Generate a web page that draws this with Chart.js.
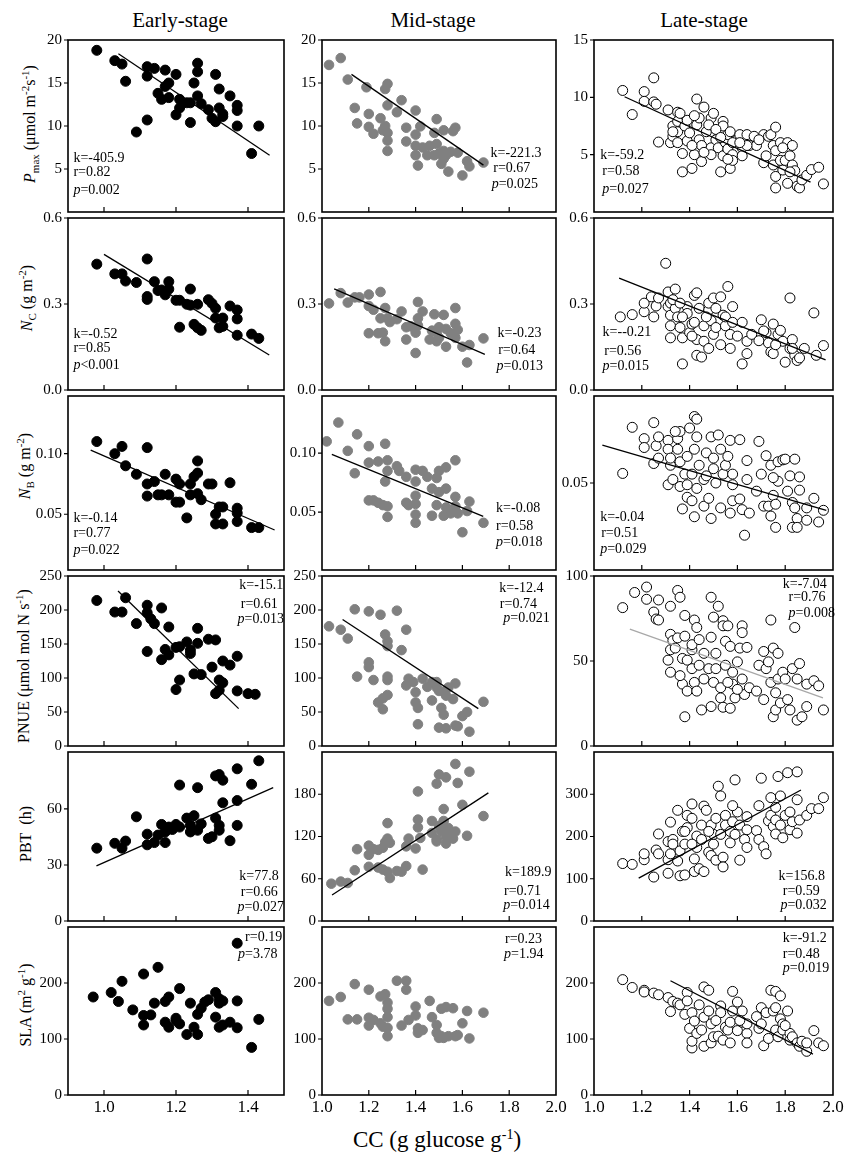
<!DOCTYPE html>
<html lang="en">
<head>
<meta charset="UTF-8">
<title>CC vs leaf traits</title>
<script src="https://cdn.jsdelivr.net/npm/chart.js"></script>
<style>
  body { margin: 0; background: #fff; }
  #page { position: relative; width: 851px; height: 1159px; font-family: 'Liberation Serif', 'Times New Roman', serif; color: #000; }
  canvas { position: absolute; }
  .title { position: absolute; font-size: 21px; transform: translate(-50%, -50%); white-space: nowrap; }
  .ylab { position: absolute; font-size: 16px; white-space: nowrap; transform: translate(-50%, -50%) rotate(-90deg); }
  .ylab sub, .ylab sup { font-size: 11px; }
  .xlab { position: absolute; font-size: 23px; white-space: nowrap; transform: translate(-50%, -50%); }
  .xlab sup { font-size: 14px; }
</style>
</head>
<body>
<div id="page">
  <div class="title" style="left:180px;top:20px;">Early-stage</div>
  <div class="title" style="left:433px;top:20px;">Mid-stage</div>
  <div class="title" style="left:704px;top:20px;">Late-stage</div>

  <div class="ylab" style="left:30px;top:124px;"><i>P</i><sub>max</sub> (μmol m<sup>-2</sup>s<sup>-1</sup>)</div>
  <div class="ylab" style="left:27px;top:298px;"><i>N</i><sub>C</sub> (g m<sup>-2</sup>)</div>
  <div class="ylab" style="left:25px;top:466px;"><i>N</i><sub>B</sub> (g m<sup>-2</sup>)</div>
  <div class="ylab" style="left:23px;top:666px;">PNUE (μmol mol N s<sup>-1</sup>)</div>
  <div class="ylab" style="left:26px;top:834px;">PBT&nbsp;&nbsp;(h)</div>
  <div class="ylab" style="left:25px;top:1005px;">SLA (m<sup>2</sup> g<sup>-1</sup>)</div>

  <div class="xlab" style="left:437px;top:1140px;">CC (g glucose g<sup>-1</sup>)</div>
</div>

<script>
// ---- tick labels ----
const earlyTicksX = [1.0, 1.2, 1.4];
const midTicksX = [1.0, 1.2, 1.4, 1.6, 1.8, 2.0];
const lateTicksX = [1.0, 1.2, 1.4, 1.6, 1.8, 2.0];

const earlyPmaxTicks = [5, 10, 15, 20];
const midPmaxTicks = [5, 10, 15, 20];
const latePmaxTicks = [5, 10, 15];
const ncTicks = [0.0, 0.3, 0.6];
const earlyNbTicks = [0.05, 0.10];
const midNbTicks = [0.05, 0.10];
const lateNbTicks = [0.05];
const earlyPnueTicks = [0, 50, 100, 150, 200, 250];
const midPnueTicks = [0, 50, 100, 150, 200, 250];
const latePnueTicks = [0, 50, 100];
const earlyPbtTicks = [0, 30, 60];
const midPbtTicks = [0, 60, 120, 180];
const latePbtTicks = [0, 100, 200, 300];
const slaTicks = [0, 100, 200];

// ---- data: [CC, value] ----
const earlyPmax = [[0.98,18.8],[1.03,17.6],[1.05,17.2],[1.06,15.2],[1.09,9.3],[1.12,10.7],[1.12,16.9],[1.12,15.8],[1.14,16.7],[1.15,13.8],[1.16,13.1],[1.17,16.5],[1.17,14.6],[1.18,15.0],[1.18,13.3],[1.20,16.0],[1.20,11.3],[1.21,13.1],[1.21,12.1],[1.23,12.7],[1.24,12.7],[1.24,10.4],[1.25,15.0],[1.26,17.3],[1.26,16.3],[1.26,13.5],[1.27,12.6],[1.29,11.9],[1.30,10.9],[1.31,10.5],[1.31,16.0],[1.32,12.1],[1.32,14.3],[1.33,11.4],[1.33,11.1],[1.35,13.5],[1.37,12.4],[1.37,11.8],[1.37,10.0],[1.41,6.8],[1.43,10.0]];
const earlyNc = [[0.98,0.439],[1.03,0.405],[1.05,0.405],[1.06,0.380],[1.09,0.375],[1.12,0.457],[1.12,0.326],[1.12,0.316],[1.14,0.378],[1.15,0.347],[1.16,0.349],[1.17,0.332],[1.18,0.378],[1.18,0.352],[1.20,0.313],[1.21,0.313],[1.21,0.219],[1.23,0.299],[1.24,0.352],[1.25,0.229],[1.24,0.296],[1.26,0.299],[1.26,0.217],[1.27,0.208],[1.29,0.315],[1.30,0.302],[1.31,0.285],[1.31,0.251],[1.32,0.217],[1.33,0.251],[1.33,0.222],[1.35,0.293],[1.37,0.279],[1.37,0.248],[1.37,0.191],[1.41,0.195],[1.43,0.180]];
const earlyNb = [[0.98,0.110],[1.03,0.100],[1.05,0.106],[1.06,0.090],[1.09,0.083],[1.12,0.105],[1.12,0.075],[1.12,0.065],[1.14,0.077],[1.15,0.066],[1.17,0.083],[1.16,0.066],[1.18,0.066],[1.20,0.079],[1.20,0.060],[1.21,0.060],[1.21,0.075],[1.23,0.047],[1.24,0.066],[1.24,0.075],[1.25,0.081],[1.26,0.094],[1.26,0.084],[1.26,0.067],[1.27,0.062],[1.29,0.075],[1.30,0.075],[1.31,0.050],[1.32,0.056],[1.31,0.042],[1.33,0.042],[1.33,0.056],[1.35,0.076],[1.37,0.055],[1.37,0.051],[1.37,0.044],[1.41,0.039],[1.43,0.039]];
const earlyPnue = [[0.98,214],[1.03,197],[1.05,197],[1.06,218],[1.09,180],[1.12,139],[1.12,207],[1.12,196],[1.13,187],[1.14,180],[1.16,203],[1.16,127],[1.17,142],[1.18,175],[1.18,134],[1.20,83],[1.21,97],[1.20,145],[1.21,146],[1.23,153],[1.24,141],[1.24,136],[1.25,106],[1.26,173],[1.26,151],[1.27,105],[1.29,157],[1.30,116],[1.31,156],[1.31,77],[1.32,97],[1.33,93],[1.32,82],[1.33,125],[1.35,119],[1.37,132],[1.37,81],[1.40,77],[1.42,76]];
const earlyPbt = [[0.98,39],[1.03,41.6],[1.05,39],[1.06,42.8],[1.09,55.8],[1.12,46.5],[1.12,40.8],[1.14,42],[1.15,46],[1.16,51.7],[1.17,42],[1.17,47.7],[1.18,50.3],[1.19,49],[1.20,51.7],[1.21,50.3],[1.21,72.8],[1.23,55.1],[1.24,47.7],[1.24,51.2],[1.25,56.4],[1.26,71.4],[1.26,48.6],[1.27,52],[1.29,44.2],[1.30,45.1],[1.31,55.1],[1.31,77.7],[1.32,78.4],[1.32,51.2],[1.33,75.4],[1.33,63.3],[1.32,48.6],[1.35,43],[1.37,81.5],[1.37,64.5],[1.37,51.2],[1.41,73.2],[1.43,85.8]];
const earlySla = [[0.97,175],[1.02,183],[1.04,167],[1.05,203],[1.08,152],[1.11,125],[1.11,142],[1.11,216],[1.13,143],[1.14,164],[1.15,228],[1.17,130],[1.17,167],[1.18,175],[1.18,121],[1.20,137],[1.20,133],[1.21,190],[1.21,127],[1.23,108],[1.24,164],[1.25,121],[1.26,108],[1.26,144],[1.27,155],[1.28,166],[1.29,170],[1.31,183],[1.31,139],[1.32,172],[1.32,121],[1.32,164],[1.33,168],[1.33,125],[1.35,130],[1.37,168],[1.37,120],[1.37,271],[1.41,85],[1.43,135]];

const midPmax = [[1.03,17.1],[1.08,17.9],[1.11,15.4],[1.14,12.1],[1.15,10.3],[1.19,14.5],[1.20,11.4],[1.20,9.9],[1.22,9.1],[1.25,10.9],[1.26,9.5],[1.27,10.0],[1.27,14.3],[1.28,14.9],[1.28,12.4],[1.28,9.2],[1.28,8.3],[1.28,7.1],[1.32,11.6],[1.34,13.0],[1.36,9.8],[1.36,8.2],[1.40,11.8],[1.40,7.7],[1.40,9.0],[1.40,6.6],[1.41,5.4],[1.42,9.95],[1.43,7.5],[1.46,7.7],[1.48,9.2],[1.48,6.6],[1.49,10.8],[1.49,7.9],[1.50,6.8],[1.51,5.6],[1.52,9.5],[1.52,7.1],[1.53,6.6],[1.54,4.7],[1.55,7.0],[1.56,9.4],[1.57,9.8],[1.58,6.9],[1.60,4.25],[1.62,5.9],[1.63,5.3],[1.69,5.75],[1.52,6.2],[1.45,6.6]];
const midNc = [[1.03,0.302],[1.08,0.338],[1.11,0.305],[1.14,0.323],[1.16,0.323],[1.20,0.333],[1.20,0.293],[1.20,0.198],[1.22,0.280],[1.25,0.342],[1.24,0.198],[1.26,0.200],[1.25,0.250],[1.27,0.286],[1.28,0.250],[1.27,0.170],[1.29,0.237],[1.32,0.247],[1.34,0.274],[1.36,0.219],[1.36,0.176],[1.38,0.222],[1.40,0.200],[1.41,0.307],[1.41,0.250],[1.41,0.225],[1.40,0.129],[1.43,0.274],[1.46,0.176],[1.47,0.207],[1.48,0.264],[1.49,0.170],[1.50,0.219],[1.52,0.262],[1.50,0.182],[1.53,0.151],[1.53,0.213],[1.55,0.198],[1.57,0.286],[1.57,0.231],[1.58,0.210],[1.57,0.182],[1.60,0.151],[1.63,0.157],[1.62,0.096],[1.69,0.180],[1.49,0.200]];
const midNb = [[1.02,0.110],[1.07,0.126],[1.11,0.102],[1.14,0.083],[1.15,0.116],[1.20,0.106],[1.20,0.092],[1.20,0.060],[1.22,0.060],[1.24,0.058],[1.24,0.093],[1.26,0.056],[1.27,0.108],[1.27,0.076],[1.28,0.085],[1.28,0.094],[1.28,0.055],[1.28,0.046],[1.32,0.089],[1.33,0.085],[1.36,0.080],[1.36,0.058],[1.37,0.056],[1.40,0.076],[1.40,0.086],[1.40,0.064],[1.40,0.057],[1.40,0.048],[1.40,0.041],[1.43,0.085],[1.45,0.080],[1.47,0.047],[1.47,0.070],[1.49,0.079],[1.49,0.056],[1.50,0.085],[1.50,0.067],[1.52,0.047],[1.53,0.088],[1.53,0.070],[1.53,0.054],[1.55,0.049],[1.57,0.094],[1.57,0.063],[1.57,0.055],[1.58,0.049],[1.60,0.033],[1.62,0.051],[1.63,0.059],[1.69,0.041]];
const midPnue = [[1.03,176],[1.08,171],[1.11,158],[1.14,201],[1.15,102],[1.20,198],[1.20,123],[1.20,116],[1.22,97],[1.24,64],[1.25,193],[1.26,54],[1.26,70],[1.27,164],[1.28,154],[1.28,147],[1.28,102],[1.28,97],[1.28,75],[1.32,199],[1.34,141],[1.36,171],[1.36,89],[1.37,99],[1.39,94],[1.40,79],[1.40,64],[1.41,56],[1.41,32],[1.43,99],[1.45,87],[1.47,67],[1.49,94],[1.49,86],[1.50,27],[1.51,56],[1.52,46],[1.52,80],[1.53,74],[1.53,26],[1.54,86],[1.56,69],[1.57,92],[1.57,30],[1.58,29],[1.60,44],[1.62,50],[1.63,21],[1.69,65],[1.47,94],[1.50,81]];
const midPbt = [[1.04,53],[1.08,56],[1.11,54],[1.14,72],[1.15,102],[1.20,94],[1.20,77],[1.20,107],[1.22,102],[1.24,101],[1.24,76],[1.26,104],[1.26,73],[1.27,112],[1.28,70],[1.28,139],[1.28,117],[1.29,61],[1.29,111],[1.32,71],[1.34,70],[1.36,78],[1.36,106],[1.37,117],[1.40,103],[1.41,184],[1.41,144],[1.41,133],[1.42,118],[1.43,73],[1.47,142],[1.47,125],[1.49,116],[1.49,113],[1.49,195],[1.50,208],[1.51,128],[1.52,142],[1.53,204],[1.53,119],[1.53,110],[1.52,159],[1.54,132],[1.54,123],[1.56,117],[1.57,127],[1.57,223],[1.58,196],[1.60,165],[1.62,121],[1.63,212],[1.69,149],[1.50,135]];
const midSla = [[1.03,168],[1.08,175],[1.11,135],[1.14,198],[1.15,135],[1.20,188],[1.20,138],[1.20,124],[1.22,134],[1.25,176],[1.25,128],[1.26,122],[1.27,180],[1.28,165],[1.28,154],[1.28,139],[1.28,120],[1.28,105],[1.32,204],[1.34,124],[1.36,204],[1.36,188],[1.37,134],[1.40,158],[1.40,142],[1.41,119],[1.41,111],[1.43,116],[1.46,168],[1.47,139],[1.49,125],[1.49,111],[1.50,102],[1.51,154],[1.52,102],[1.53,157],[1.54,105],[1.56,155],[1.57,105],[1.58,107],[1.60,128],[1.62,150],[1.63,101],[1.69,147],[1.51,105]];

const latePmax = [[1.12,10.6],[1.16,8.5],[1.21,10.5],[1.21,9.65],[1.25,11.7],[1.25,9.6],[1.26,9.4],[1.27,6.1],[1.31,8.9],[1.32,6.05],[1.33,7.5],[1.33,6.6],[1.35,8.7],[1.35,7.9],[1.35,7.0],[1.35,6.05],[1.37,5.1],[1.37,3.5],[1.38,7.5],[1.39,8.0],[1.39,6.2],[1.40,6.9],[1.41,3.8],[1.42,5.0],[1.43,7.6],[1.43,9.85],[1.44,8.2],[1.44,6.3],[1.45,4.4],[1.45,5.8],[1.47,7.0],[1.49,8.2],[1.50,8.6],[1.49,5.6],[1.49,5.0],[1.51,6.3],[1.52,5.6],[1.53,3.5],[1.54,7.9],[1.54,7.5],[1.54,4.9],[1.55,6.05],[1.56,6.75],[1.56,5.5],[1.57,3.8],[1.57,7.0],[1.58,5.0],[1.58,4.5],[1.60,6.3],[1.61,6.75],[1.62,5.6],[1.62,4.9],[1.64,6.75],[1.65,5.8],[1.68,5.8],[1.71,4.3],[1.71,6.75],[1.72,4.9],[1.73,6.6],[1.74,6.75],[1.75,5.8],[1.75,4.1],[1.76,7.4],[1.76,3.1],[1.76,2.1],[1.76,5.35],[1.78,4.5],[1.78,6.05],[1.79,3.66],[1.80,4.5],[1.81,2.5],[1.81,6.05],[1.82,4.9],[1.83,5.8],[1.83,4.1],[1.84,3.6],[1.85,2.25],[1.86,2.1],[1.87,2.8],[1.89,3.2],[1.91,3.7],[1.94,3.9],[1.96,2.45],[1.36,8.6],[1.42,8.4],[1.46,9.15],[1.48,7.6],[1.51,7.2],[1.53,6.5],[1.58,6.05],[1.64,5.8],[1.67,6.6],[1.69,6.3],[1.33,7.0],[1.41,5.8],[1.46,5.2],[1.56,4.6],[1.61,6.05],[1.79,5.6],[1.82,3.5]];
const lateNc = [[1.11,0.255],[1.16,0.263],[1.21,0.273],[1.21,0.303],[1.24,0.325],[1.25,0.255],[1.26,0.293],[1.27,0.321],[1.30,0.442],[1.31,0.291],[1.31,0.342],[1.32,0.303],[1.32,0.261],[1.32,0.224],[1.32,0.182],[1.34,0.352],[1.34,0.285],[1.35,0.255],[1.36,0.218],[1.37,0.091],[1.37,0.182],[1.39,0.291],[1.39,0.267],[1.40,0.200],[1.41,0.230],[1.42,0.330],[1.43,0.339],[1.42,0.236],[1.43,0.176],[1.43,0.121],[1.45,0.115],[1.44,0.285],[1.46,0.224],[1.46,0.170],[1.48,0.279],[1.48,0.303],[1.49,0.242],[1.50,0.321],[1.50,0.194],[1.51,0.218],[1.53,0.158],[1.53,0.325],[1.54,0.261],[1.55,0.224],[1.55,0.255],[1.56,0.361],[1.57,0.194],[1.57,0.145],[1.58,0.236],[1.60,0.188],[1.62,0.236],[1.62,0.091],[1.64,0.170],[1.64,0.127],[1.66,0.194],[1.69,0.172],[1.70,0.245],[1.72,0.200],[1.73,0.164],[1.74,0.133],[1.75,0.230],[1.75,0.127],[1.77,0.194],[1.78,0.208],[1.79,0.170],[1.80,0.097],[1.82,0.321],[1.82,0.145],[1.83,0.176],[1.84,0.121],[1.85,0.103],[1.86,0.112],[1.88,0.145],[1.92,0.269],[1.93,0.121],[1.96,0.155],[1.33,0.315],[1.36,0.303],[1.47,0.255],[1.51,0.285],[1.58,0.291],[1.37,0.255],[1.41,0.188],[1.48,0.145],[1.71,0.206],[1.76,0.158],[1.83,0.145]];
const lateNb = [[1.12,0.0555],[1.16,0.082],[1.21,0.0755],[1.21,0.0704],[1.25,0.0847],[1.25,0.0612],[1.26,0.0714],[1.27,0.0765],[1.27,0.0643],[1.31,0.0745],[1.31,0.0694],[1.31,0.049],[1.32,0.0602],[1.32,0.0643],[1.33,0.052],[1.35,0.0694],[1.35,0.0755],[1.36,0.0796],[1.36,0.0622],[1.36,0.048],[1.37,0.0351],[1.38,0.0551],[1.39,0.0653],[1.39,0.0418],[1.40,0.0816],[1.41,0.0551],[1.41,0.0398],[1.42,0.0882],[1.42,0.0694],[1.43,0.0765],[1.43,0.0867],[1.43,0.0469],[1.42,0.0306],[1.44,0.0602],[1.46,0.0367],[1.46,0.052],[1.47,0.0673],[1.48,0.0412],[1.49,0.0296],[1.49,0.0765],[1.50,0.0582],[1.50,0.0643],[1.52,0.0776],[1.53,0.0694],[1.53,0.0357],[1.54,0.0551],[1.55,0.0602],[1.56,0.0653],[1.57,0.0327],[1.57,0.0745],[1.58,0.049],[1.58,0.0398],[1.61,0.0749],[1.61,0.0408],[1.62,0.0347],[1.63,0.020],[1.64,0.0629],[1.64,0.052],[1.65,0.0327],[1.68,0.0453],[1.69,0.0739],[1.70,0.0551],[1.71,0.0367],[1.72,0.0657],[1.73,0.0367],[1.74,0.0602],[1.74,0.031],[1.75,0.0429],[1.76,0.0245],[1.76,0.0378],[1.77,0.0622],[1.77,0.051],[1.79,0.0633],[1.80,0.0637],[1.81,0.0453],[1.82,0.0541],[1.83,0.0388],[1.83,0.0245],[1.84,0.0637],[1.85,0.0296],[1.85,0.0245],[1.86,0.0535],[1.86,0.0459],[1.89,0.0286],[1.89,0.0357],[1.92,0.0412],[1.94,0.0276],[1.96,0.0343],[1.34,0.0796],[1.47,0.0541],[1.51,0.050],[1.39,0.049],[1.58,0.0551],[1.75,0.0531],[1.84,0.0357]];
const latePnue = [[1.12,81.4],[1.17,90.3],[1.22,93.5],[1.22,86.3],[1.25,78.8],[1.26,74.7],[1.27,85.9],[1.27,74.1],[1.32,43.4],[1.32,65.7],[1.32,82.2],[1.32,56.6],[1.31,50.5],[1.33,62.0],[1.35,63.6],[1.35,91.5],[1.36,87.5],[1.37,51.5],[1.37,36.4],[1.38,17.2],[1.38,76.8],[1.38,64.6],[1.39,32.3],[1.39,50.5],[1.41,56.6],[1.41,45.5],[1.41,59.6],[1.42,74.1],[1.42,37.4],[1.43,69.7],[1.43,32.3],[1.44,62.6],[1.45,21.2],[1.46,39.4],[1.46,54.5],[1.48,45.5],[1.49,87.5],[1.49,64.0],[1.50,75.8],[1.49,23.2],[1.50,37.4],[1.51,54.5],[1.52,82.2],[1.53,34.3],[1.53,28.3],[1.54,73.7],[1.54,70.7],[1.54,22.8],[1.55,61.6],[1.55,47.5],[1.56,70.7],[1.57,58.6],[1.57,22.2],[1.58,43.4],[1.58,36.4],[1.59,28.3],[1.60,49.5],[1.61,57.6],[1.62,70.7],[1.62,66.7],[1.62,39.4],[1.63,30.3],[1.64,58.0],[1.65,34.3],[1.68,32.3],[1.69,47.5],[1.71,27.3],[1.71,55.6],[1.72,45.5],[1.73,49.5],[1.74,74.1],[1.74,37.4],[1.75,57.6],[1.75,17.2],[1.76,31.3],[1.76,21.2],[1.77,39.4],[1.77,54.5],[1.78,25.3],[1.79,43.4],[1.80,39.4],[1.81,27.3],[1.82,21.2],[1.83,45.5],[1.84,69.7],[1.85,15.2],[1.85,39.4],[1.86,48.5],[1.87,17.2],[1.89,23.2],[1.89,36.4],[1.92,38.4],[1.94,35.4],[1.96,21.2],[1.34,57.6],[1.36,41.4],[1.44,47.5],[1.51,45.5],[1.56,37.4],[1.60,33.3]];
const latePbt = [[1.12,136],[1.16,134],[1.21,145],[1.21,159],[1.25,104],[1.26,168],[1.27,206],[1.27,159],[1.31,113],[1.31,188],[1.31,145],[1.32,234],[1.32,159],[1.33,193],[1.35,262],[1.35,142],[1.36,166],[1.36,107],[1.37,212],[1.38,182],[1.38,109],[1.39,250],[1.39,221],[1.41,277],[1.41,243],[1.42,117],[1.42,147],[1.43,201],[1.43,174],[1.44,124],[1.45,227],[1.46,272],[1.45,193],[1.46,117],[1.47,262],[1.48,163],[1.49,227],[1.49,155],[1.50,182],[1.50,205],[1.51,144],[1.51,243],[1.52,319],[1.53,296],[1.53,205],[1.54,151],[1.54,128],[1.55,250],[1.55,227],[1.57,185],[1.57,212],[1.58,235],[1.59,334],[1.59,205],[1.60,258],[1.61,144],[1.61,227],[1.63,193],[1.64,247],[1.64,216],[1.64,174],[1.68,214],[1.69,193],[1.70,338],[1.71,176],[1.72,159],[1.73,237],[1.74,250],[1.74,292],[1.75,224],[1.76,206],[1.76,239],[1.76,269],[1.77,342],[1.78,296],[1.78,227],[1.79,197],[1.80,250],[1.81,351],[1.82,216],[1.83,235],[1.85,353],[1.85,287],[1.85,208],[1.86,239],[1.89,250],[1.91,266],[1.94,266],[1.96,292],[1.41,182],[1.33,182],[1.38,212],[1.48,212],[1.58,273],[1.69,273],[1.82,258]];
const lateSla = [[1.12,206],[1.16,192],[1.21,187],[1.21,184],[1.25,182],[1.27,179],[1.31,174],[1.32,149],[1.33,167],[1.35,164],[1.36,161],[1.38,144],[1.39,183],[1.39,168],[1.40,119],[1.41,84],[1.41,96],[1.41,147],[1.42,132],[1.43,110],[1.45,116],[1.46,87],[1.46,193],[1.46,139],[1.48,187],[1.48,150],[1.49,93],[1.49,127],[1.50,104],[1.52,105],[1.53,159],[1.53,147],[1.54,98],[1.55,121],[1.56,116],[1.57,93],[1.57,130],[1.58,185],[1.58,150],[1.60,166],[1.60,115],[1.62,150],[1.62,130],[1.64,110],[1.64,93],[1.64,127],[1.68,140],[1.69,119],[1.70,156],[1.71,88],[1.72,147],[1.73,101],[1.74,187],[1.75,150],[1.76,156],[1.76,116],[1.76,185],[1.77,104],[1.78,177],[1.78,136],[1.79,127],[1.79,116],[1.81,150],[1.82,110],[1.82,98],[1.83,104],[1.85,93],[1.86,87],[1.87,96],[1.89,78],[1.89,93],[1.92,115],[1.94,93],[1.96,88],[1.44,161],[1.51,133],[1.61,133],[1.70,127],[1.80,124]];

// ---- fitted lines: two end points ----
const earlyPmaxFit = [[1.04,18.4],[1.46,6.6]];
const earlyNcFit = [[1.00,0.473],[1.459,0.122]];
const earlyNbFit = [[0.963,0.103],[1.474,0.037]];
const earlyPnueFit = [[1.039,228],[1.374,55]];
const earlyPbtFit = [[0.979,29.5],[1.470,71.4]];
const midPmaxFit = [[1.126,16.0],[1.69,5.45]];
const midNcFit = [[1.052,0.353],[1.696,0.124]];
const midNbFit = [[1.042,0.099],[1.689,0.0465]];
const midPnueFit = [[1.088,186],[1.668,55]];
const midPbtFit = [[1.043,37],[1.711,182]];
const latePmaxFit = [[1.128,10.05],[1.906,2.6]];
const lateNcFit = [[1.105,0.390],[1.969,0.105]];
const lateNbFit = [[1.035,0.0718],[1.972,0.0343]];
const latePnueFit = [[1.15,68.7],[1.958,28.3]];
const latePbtFit = [[1.187,101.5],[1.866,310]];
const lateSlaFit = [[1.32,204],[1.916,73]];

// ---- statistics text ----
const earlyPmaxStats = ['k=-405.9', 'r=0.82', 'p=0.002'];
const earlyNcStats = ['k=-0.52', 'r=0.85', 'p<0.001'];
const earlyNbStats = ['k=-0.14', 'r=0.77', 'p=0.022'];
const earlyPnueStats = ['k=-15.1', 'r=0.61', 'p=0.013'];
const earlyPbtStats = ['k=77.8', 'r=0.66', 'p=0.027'];
const earlySlaStats = ['r=0.19', 'p=3.78'];
const midPmaxStats = ['k=-221.3', 'r=0.67', 'p=0.025'];
const midNcStats = ['k=-0.23', 'r=0.64', 'p=0.013'];
const midNbStats = ['k=-0.08', 'r=0.58', 'p=0.018'];
const midPnueStats = ['k=-12.4', 'r=0.74', 'p=0.021'];
const midPbtStats = ['k=189.9', 'r=0.71', 'p=0.014'];
const midSlaStats = ['r=0.23', 'p=1.94'];
const latePmaxStats = ['k=-59.2', 'r=0.58', 'p=0.027'];
const lateNcStats = ['k=--0.21', 'r=0.56', 'p=0.015'];
const lateNbStats = ['k=-0.04', 'r=0.51', 'p=0.029'];
const latePnueStats = ['k=-7.04', 'r=0.76', 'p=0.008'];
const latePbtStats = ['k=156.8', 'r=0.59', 'p=0.032'];
const lateSlaStats = ['k=-91.2', 'r=0.48', 'p=0.019'];

// ---- layout ----
const SERIF = "'Liberation Serif', 'Times New Roman', serif";
const colLeft = [68, 322, 594];
const colRight = [284, 556, 833];
const rowTop = [37, 215, 393, 573, 749, 924, 1095];
const xRange = [[0.9, 1.5], [1.0, 2.0], [1.0, 2.0]];
const xTicksByCol = [earlyTicksX, midTicksX, lateTicksX];

const markerStyle = [
  { bg: '#000', border: '#000', r: 5 },
  { bg: '#808080', border: '#808080', r: 4.8 },
  { bg: '#fff', border: '#000', r: 5 }
];

// stats position: sx / sy are fractions of the plot box for each line
const panels = [
  { c:0, r:0, pts:earlyPmax, fit:earlyPmaxFit, yt:earlyPmaxTicks, min:0, max:20, dec:0, st:earlyPmaxStats, sx:[0.025,0.025,0.025], sy:[0.69,0.77,0.874] },
  { c:0, r:1, pts:earlyNc, fit:earlyNcFit, yt:ncTicks, min:0, max:0.6, dec:1, st:earlyNcStats, sx:[0.025,0.025,0.025], sy:[0.675,0.76,0.854] },
  { c:0, r:2, pts:earlyNb, fit:earlyNbFit, yt:earlyNbTicks, min:0.004, max:0.1476, dec:2, st:earlyNbStats, sx:[0.025,0.025,0.025], sy:[0.704,0.79,0.889] },
  { c:0, r:3, pts:earlyPnue, fit:earlyPnueFit, yt:earlyPnueTicks, min:0, max:250, dec:0, st:earlyPnueStats, sx:[0.793,0.80,0.785], sy:[0.057,0.167,0.253] },
  { c:0, r:4, pts:earlyPbt, fit:earlyPbtFit, yt:earlyPbtTicks, min:0, max:90.5, dec:0, st:earlyPbtStats, sx:[0.793,0.80,0.785], sy:[0.736,0.831,0.92] },
  { c:0, r:5, pts:earlySla, fit:null, yt:slaTicks, min:0, max:300, dec:0, st:earlySlaStats, sx:[0.82,0.787], sy:[0.064,0.162] },

  { c:1, r:0, pts:midPmax, fit:midPmaxFit, yt:midPmaxTicks, min:0, max:20, dec:0, st:midPmaxStats, sx:[0.72,0.732,0.725], sy:[0.657,0.747,0.84] },
  { c:1, r:1, pts:midNc, fit:midNcFit, yt:ncTicks, min:0, max:0.6, dec:1, st:midNcStats, sx:[0.75,0.753,0.746], sy:[0.67,0.768,0.865] },
  { c:1, r:2, pts:midNb, fit:midNbFit, yt:midNbTicks, min:0.001, max:0.1485, dec:2, st:midNbStats, sx:[0.744,0.744,0.744], sy:[0.647,0.747,0.84] },
  { c:1, r:3, pts:midPnue, fit:midPnueFit, yt:midPnueTicks, min:0, max:250, dec:0, st:midPnueStats, sx:[0.758,0.76,0.775], sy:[0.074,0.167,0.25] },
  { c:1, r:4, pts:midPbt, fit:midPbtFit, yt:midPbtTicks, min:0, max:240, dec:0, st:midPbtStats, sx:[0.782,0.778,0.775], sy:[0.713,0.822,0.908] },
  { c:1, r:5, pts:midSla, fit:null, yt:slaTicks, min:0, max:300, dec:0, st:midSlaStats, sx:[0.782,0.778], sy:[0.073,0.163] },

  { c:2, r:0, pts:latePmax, fit:latePmaxFit, yt:latePmaxTicks, min:0, max:15, dec:0, st:latePmaxStats, sx:[0.026,0.035,0.035], sy:[0.668,0.765,0.869] },
  { c:2, r:1, pts:lateNc, fit:lateNcFit, yt:ncTicks, min:0, max:0.6, dec:1, st:lateNcStats, sx:[0.036,0.043,0.036], sy:[0.667,0.774,0.863] },
  { c:2, r:2, pts:lateNb, fit:lateNbFit, yt:lateNbTicks, min:0, max:0.1, dec:2, st:lateNbStats, sx:[0.026,0.03,0.026], sy:[0.698,0.792,0.882] },
  { c:2, r:3, pts:latePnue, fit:latePnueFit, yt:latePnueTicks, min:0, max:100, dec:0, st:latePnueStats, sx:[0.79,0.814,0.814], sy:[0.05,0.127,0.218], fitColor:'#a8a8a8' },
  { c:2, r:4, pts:latePbt, fit:latePbtFit, yt:latePbtTicks, min:0, max:400, dec:0, st:latePbtStats, sx:[0.772,0.79,0.78], sy:[0.737,0.822,0.908] },
  { c:2, r:5, pts:lateSla, fit:lateSlaFit, yt:slaTicks, min:0, max:300, dec:0, st:lateSlaStats, sx:[0.79,0.79,0.79], sy:[0.065,0.16,0.248] }
];

// frame, tick marks, bottom tick labels and statistics text for one panel
function makeDecor(p) {
  return {
    id: 'panelDecor',
    afterDraw(chart) {
      const ca = chart.chartArea;
      const ctx = chart.ctx;
      const xs = chart.scales.x;
      ctx.save();
      ctx.strokeStyle = '#000';
      ctx.lineWidth = 1.6;
      ctx.strokeRect(ca.left, ca.top, ca.right - ca.left, ca.bottom - ca.top);
      ctx.lineWidth = 1.2;
      ctx.beginPath();
      p.yt.forEach(v => {
        const y = chart.scales.y.getPixelForValue(v);
        ctx.moveTo(ca.left - 4, y);
        ctx.lineTo(ca.left, y);
      });
      xTicksByCol[p.c].forEach(v => {
        const x = xs.getPixelForValue(v);
        if (x > ca.left + 1 && x < ca.right - 1) {
          ctx.moveTo(x, ca.bottom);
          ctx.lineTo(x, ca.bottom - 5);
        }
      });
      ctx.stroke();

      ctx.fillStyle = '#000';
      if (p.r === 5) {
        ctx.font = '17px ' + SERIF;
        ctx.textAlign = 'center';
        ctx.textBaseline = 'top';
        xTicksByCol[p.c].forEach(v => {
          ctx.fillText(v.toFixed(1), xs.getPixelForValue(v), ca.bottom + 4);
        });
      }

      const w = ca.right - ca.left, h = ca.bottom - ca.top;
      ctx.textBaseline = 'middle';
      ctx.textAlign = 'left';
      p.st.forEach((line, i) => {
        const x = ca.left + p.sx[i] * w;
        const y = ca.top + p.sy[i] * h;
        if (line[0] === 'p') {
          ctx.font = 'italic 14px ' + SERIF;
          ctx.fillText('p', x, y);
          const off = ctx.measureText('p').width;
          ctx.font = '14px ' + SERIF;
          ctx.fillText(line.slice(1), x + off, y);
        } else {
          ctx.font = '14px ' + SERIF;
          ctx.fillText(line, x, y);
        }
      });
      ctx.restore();
    }
  };
}

const page = document.getElementById('page');
const padL = 54, padR = 14, padT = 12;

panels.forEach(p => {
  const L = colLeft[p.c], R = colRight[p.c];
  const T = rowTop[p.r], B = rowTop[p.r + 1];
  const isBottom = p.r === 5;
  const padB = isBottom ? 34 : 12;
  const cw = (R - L) + padL + padR;
  const chh = (B - T) + padT + padB;

  const canvas = document.createElement('canvas');
  canvas.width = cw;
  canvas.height = chh;
  canvas.style.left = (L - padL) + 'px';
  canvas.style.top = (T - padT) + 'px';
  canvas.style.width = cw + 'px';
  canvas.style.height = chh + 'px';
  page.appendChild(canvas);

  const ms = markerStyle[p.c];
  const datasets = [{
    data: p.pts.map(d => ({ x: d[0], y: d[1] })),
    backgroundColor: ms.bg,
    borderColor: ms.border,
    borderWidth: 1,
    pointRadius: ms.r,
    pointHoverRadius: ms.r,
    order: 2
  }];
  if (p.fit) {
    datasets.push({
      data: p.fit.map(d => ({ x: d[0], y: d[1] })),
      showLine: true,
      borderColor: p.fitColor || '#000',
      borderWidth: 1.3,
      pointRadius: 0,
      fill: false,
      order: 1
    });
  }

  new Chart(canvas.getContext('2d'), {
    type: 'scatter',
    data: { datasets: datasets },
    options: {
      responsive: false,
      animation: false,
      devicePixelRatio: 1,
      layout: { padding: { top: padT, right: padR, bottom: padB, left: 0 } },
      plugins: { legend: { display: false }, tooltip: { enabled: false } },
      scales: {
        x: {
          type: 'linear',
          min: xRange[p.c][0],
          max: xRange[p.c][1],
          afterBuildTicks: s => { s.ticks = xTicksByCol[p.c].map(v => ({ value: v })); },
          afterFit: s => { s.height = 0; },
          grid: { display: false, drawTicks: false },
          border: { display: false },
          ticks: { display: false }
        },
        y: {
          type: 'linear',
          min: p.min,
          max: p.max,
          afterBuildTicks: s => { s.ticks = p.yt.map(v => ({ value: v })); },
          afterFit: s => { s.width = padL; },
          grid: { display: false, drawTicks: false },
          border: { display: false },
          ticks: {
            autoSkip: false,
            padding: 6,
            color: '#000',
            font: { family: SERIF, size: 15 },
            callback: v => Number(v).toFixed(p.dec)
          }
        }
      }
    },
    plugins: [makeDecor(p)]
  });
});
</script>
</body>
</html>
